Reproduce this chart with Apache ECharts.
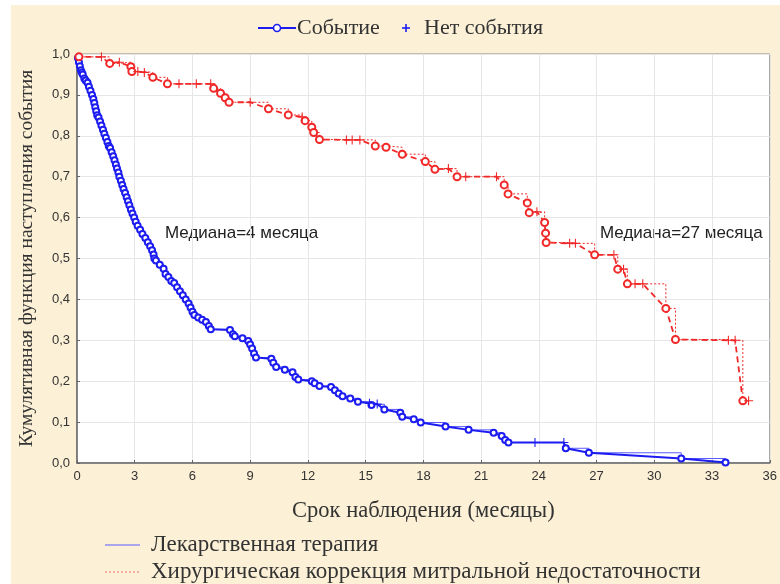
<!DOCTYPE html>
<html>
<head>
<meta charset="utf-8">
<script src="https://cdn.jsdelivr.net/npm/echarts@6/dist/echarts.min.js"></script>
<style>
html,body{margin:0;padding:0;background:#fff;}
#chart{width:780px;height:584px;}
</style>
</head>
<body>
<div id="chart"></div>
<script>
// ---- data (months, cumulative proportion) ----
const curveStart = [0, 1.0];

const drugEvents = [
  [0.05,0.99],[0.1,0.98],[0.15,0.97],[0.2,0.96],[0.25,0.955],[0.3,0.95],[0.38,0.94],[0.45,0.935],
  [0.55,0.93],[0.62,0.92],[0.7,0.91],[0.78,0.90],[0.85,0.89],[0.9,0.88],[0.95,0.87],[1.0,0.86],
  [1.05,0.85],[1.12,0.845],[1.2,0.835],[1.27,0.825],[1.35,0.815],[1.42,0.805],[1.5,0.795],
  [1.58,0.785],[1.65,0.775],[1.72,0.77],[1.8,0.76],[1.88,0.75],[1.95,0.74],[2.02,0.73],
  [2.08,0.72],[2.15,0.71],[2.2,0.70],[2.28,0.69],[2.35,0.68],[2.42,0.67],[2.5,0.66],[2.58,0.65],
  [2.65,0.64],[2.72,0.63],[2.8,0.62],[2.88,0.61],[2.97,0.60],[3.05,0.59],[3.15,0.58],[3.28,0.57],
  [3.4,0.56],[3.55,0.55],[3.68,0.54],[3.8,0.53],[3.9,0.52],[3.98,0.51],[4.02,0.50],[4.1,0.495],
  [4.3,0.485],[4.5,0.475],[4.6,0.462],[4.75,0.455],[4.9,0.445],[5.05,0.44],[5.2,0.43],[5.35,0.42],
  [5.5,0.41],[5.65,0.40],[5.8,0.39],[5.9,0.38],[6.0,0.37],[6.1,0.362],[6.3,0.356],[6.5,0.35],
  [6.7,0.345],[6.85,0.335],[6.95,0.327],[7.95,0.325],[8.1,0.315],[8.2,0.31],[8.6,0.305],
  [8.9,0.298],[9.0,0.29],[9.1,0.28],[9.2,0.268],[9.3,0.258],[10.1,0.255],[10.2,0.245],
  [10.35,0.235],[10.8,0.228],[11.2,0.222],[11.35,0.21],[11.5,0.204],[12.2,0.20],[12.35,0.195],
  [12.6,0.188],[13.2,0.186],[13.4,0.178],[13.6,0.17],[13.8,0.163],[14.2,0.158],[14.6,0.15],
  [15.3,0.142],[15.97,0.131],[16.8,0.123],[16.9,0.113],[17.5,0.107],[17.86,0.099],[19.15,0.089],
  [20.35,0.081],[21.65,0.074],[22.07,0.066],[22.25,0.056],[22.42,0.05],[25.4,0.036],
  [26.6,0.025],[31.4,0.011],[33.7,0.001]
];
const drugCensored = [[15.2,0.146],[15.6,0.144],[23.8,0.05],[25.3,0.05]];

const surgEvents = [
  [0.1,0.993],[1.7,0.977],[2.8,0.969],[2.85,0.957],[3.94,0.943],[4.7,0.927],[7.1,0.916],
  [7.46,0.904],[7.7,0.893],[7.9,0.882],[9.95,0.866],[10.98,0.851],[11.85,0.837],[12.2,0.821],
  [12.3,0.808],[12.6,0.791],[15.5,0.775],[16.06,0.772],[16.9,0.755],[18.1,0.737],[18.6,0.718],
  [19.75,0.70],[22.2,0.68],[22.4,0.658],[23.4,0.636],[23.5,0.612],[24.3,0.588],[24.35,0.562],
  [24.38,0.539],[26.9,0.509],[28.1,0.474],[28.6,0.438],[30.6,0.378],[31.1,0.302],[34.6,0.152]
];
const surgCensored = [
  [1.27,0.993],[2.2,0.98],[3.16,0.957],[3.5,0.955],[5.3,0.927],[6.2,0.927],[6.95,0.927],
  [9.0,0.882],[11.7,0.846],[14.0,0.79],[14.3,0.79],[14.7,0.79],[19.3,0.72],[20.2,0.70],
  [21.8,0.70],[23.9,0.614],[25.6,0.537],[25.9,0.537],[27.9,0.509],[28.4,0.474],[29.0,0.438],
  [29.4,0.438],[33.85,0.30],[34.2,0.30],[34.9,0.152]
];

const xAxisRange = [0, 36, 3];
const yAxisRange = [0, 1, 0.1];
const legendTop = ['Событие', 'Нет события'];
const legendBottom = ['Лекарственная терапия', 'Хирургическая коррекция митральной недостаточности'];
const medianLabels = ['Медиана=4 месяца', 'Медиана=27 месяца'];
const xName = 'Срок наблюдения (месяцы)';
const yName = 'Кумулятивная функция наступления события';

// ---- build ----
const plusPath = 'path://M-0.12,-1H0.12V-0.12H1V0.12H0.12V1H-0.12V0.12H-1V-0.12H-0.12Z';
function merged(ev, ce) {
  const arr = [{value: curveStart, symbol: 'none'}]
    .concat(ev.map(p => ({value: p})))
    .concat(ce.map(p => ({value: p, symbol: 'none'})));
  arr.sort((a, b) => a.value[0] - b.value[0] || b.value[1] - a.value[1]);
  return arr;
}
const drugAll = merged(drugEvents, drugCensored);
const surgAll = merged(surgEvents, surgCensored);
const plain = a => a.map(d => d.value);

const BLUE = '#1c1cf0', RED = '#f02828', STEPBLUE = '#5a5aff';
const serif = 'Liberation Serif';
const txt = '#333';

function plusShape(cx, cy, r, color) {
  return [
    {type: 'line', shape: {x1: cx - r, y1: cy, x2: cx + r, y2: cy}, style: {stroke: color, lineWidth: 1.6}},
    {type: 'line', shape: {x1: cx, y1: cy - r, x2: cx, y2: cy + r}, style: {stroke: color, lineWidth: 1.6}}
  ];
}

const chart = echarts.init(document.getElementById('chart'));
chart.setOption({
  backgroundColor: '#fcf0d6',
  animation: false,
  grid: {left: 77, top: 54, right: 5, bottom: 121, show: true, backgroundColor: '#fff',
         borderColor: '#8a8a8a', borderWidth: 1},
  xAxis: {
    type: 'value', min: xAxisRange[0], max: xAxisRange[1], interval: xAxisRange[2],
    name: xName, nameLocation: 'middle', nameGap: 37,
    nameTextStyle: {fontFamily: serif, fontSize: 22.5, color: txt},
    axisLine: {lineStyle: {color: '#666', width: 1.5}},
    axisTick: {inside: true, length: 3, lineStyle: {color: '#666'}},
    axisLabel: {fontFamily: 'Liberation Sans', fontSize: 13, color: txt, margin: 7},
    splitLine: {lineStyle: {color: '#e6e6e6'}}
  },
  yAxis: {
    type: 'value', min: yAxisRange[0], max: yAxisRange[1], interval: yAxisRange[2],
    name: yName, nameLocation: 'middle', nameGap: 40,
    nameTextStyle: {fontFamily: serif, fontSize: 19.5, color: txt},
    axisLine: {show: true, lineStyle: {color: '#666', width: 1.5}},
    axisTick: {show: true, inside: true, length: 3, lineStyle: {color: '#666'}},
    axisLabel: {fontFamily: 'Liberation Sans', fontSize: 13, color: txt, margin: 7,
                formatter: v => v.toFixed(1).replace('.', ',')},
    splitLine: {lineStyle: {color: '#e6e6e6'}}
  },
  graphic: [
    {type: 'rect', shape: {x: 0, y: 0, width: 780, height: 5}, style: {fill: '#fff'}, z: -1, silent: true},
    {type: 'rect', shape: {x: 0, y: 0, width: 11, height: 584}, style: {fill: '#fff'}, z: -1, silent: true},
    // top legend
    {type: 'line', shape: {x1: 258, y1: 28, x2: 296, y2: 28}, style: {stroke: BLUE, lineWidth: 2}},
    {type: 'circle', shape: {cx: 277, cy: 28, r: 3.5}, style: {fill: '#fff', stroke: BLUE, lineWidth: 1.6}},
    {type: 'text', x: 297, y: 28, style: {text: legendTop[0], font: '22px "Liberation Serif"', fill: txt, verticalAlign: 'middle'}},
    ...plusShape(406, 28, 4, BLUE),
    {type: 'text', x: 424, y: 28, style: {text: legendTop[1], font: '22px "Liberation Serif"', fill: txt, verticalAlign: 'middle'}},
    // bottom legend
    {type: 'line', shape: {x1: 105, y1: 545, x2: 140, y2: 545}, style: {stroke: STEPBLUE, lineWidth: 1.2}},
    {type: 'text', x: 151, y: 545, style: {text: legendBottom[0], font: '23px "Liberation Serif"', fill: txt, verticalAlign: 'middle'}},
    {type: 'line', shape: {x1: 105, y1: 572, x2: 140, y2: 572}, style: {stroke: '#f07070', lineWidth: 1.2, lineDash: [2, 2]}},
    {type: 'text', x: 151, y: 572, style: {text: legendBottom[1], font: '23px "Liberation Serif"', fill: txt, verticalAlign: 'middle'}},
    // medians
    {type: 'text', x: 165, y: 233, style: {text: medianLabels[0], font: '17px "Liberation Sans"', fill: '#222', verticalAlign: 'middle'}},
    {type: 'text', x: 600, y: 233, style: {text: medianLabels[1], font: '17px "Liberation Sans"', fill: '#222', verticalAlign: 'middle'}}
  ],
  series: [
    {name: legendBottom[0], type: 'line', step: 'end', data: plain(drugAll), symbol: 'none',
     lineStyle: {color: STEPBLUE, width: 1}, z: 2},
    {name: legendTop[0], type: 'line', data: drugAll, symbol: 'emptyCircle', symbolSize: 6,
     lineStyle: {color: BLUE, width: 2}, itemStyle: {color: BLUE, borderWidth: 1.5}, z: 3},
    {name: legendTop[1], type: 'scatter', data: drugCensored, symbol: plusPath, symbolSize: 9,
     itemStyle: {color: BLUE, opacity: 1}, z: 4},
    {name: legendBottom[1], type: 'line', step: 'end', data: plain(surgAll), symbol: 'none',
     lineStyle: {color: RED, width: 1, type: [2, 2]}, z: 2},
    {name: 'surgLine', type: 'line', data: surgAll, symbol: 'emptyCircle', symbolSize: 7,
     lineStyle: {color: RED, width: 1.8, type: [6, 4]}, itemStyle: {color: RED, borderWidth: 1.5}, z: 3},
    {name: 'surgCens', type: 'scatter', data: surgCensored, symbol: plusPath, symbolSize: 9,
     itemStyle: {color: RED, opacity: 1}, z: 4}
  ]
});
</script>
</body>
</html>
